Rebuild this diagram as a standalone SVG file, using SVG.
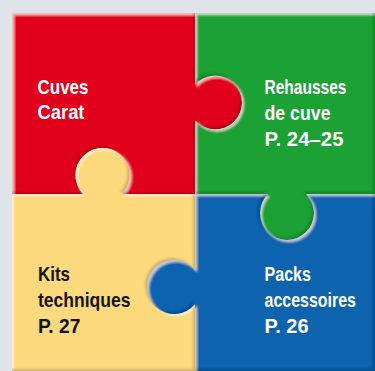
<svg xmlns="http://www.w3.org/2000/svg" width="375" height="371" viewBox="0 0 375 371">
<defs>
<style>
.lbl{font-family:"Liberation Sans Narrow","Liberation Sans",Arial,sans-serif;font-weight:bold;font-size:20.5px}
.w{fill:#ffffff}
.k{fill:#141414}
.piece{filter:url(#bevel)}
</style>
<filter id="bevel" x="-5%" y="-5%" width="110%" height="110%">
<feGaussianBlur in="SourceAlpha" stdDeviation="1.2" result="blur"/>
<feOffset in="blur" dx="2" dy="2" result="o1"/>
<feComposite in="SourceAlpha" in2="o1" operator="out" result="hl"/>
<feFlood flood-color="#ffffff" flood-opacity="0.55"/>
<feComposite in2="hl" operator="in" result="hlc"/>
<feOffset in="blur" dx="-2" dy="-2" result="o2"/>
<feComposite in="SourceAlpha" in2="o2" operator="out" result="sh"/>
<feFlood flood-color="#000000" flood-opacity="0.35"/>
<feComposite in2="sh" operator="in" result="shc"/>
<feMerge><feMergeNode in="SourceGraphic"/><feMergeNode in="hlc"/><feMergeNode in="shc"/></feMerge>
</filter>
</defs>
<rect x="0" y="0" width="375" height="371" fill="#dfe4e8"/>
<g id="connectors"/>
<g id="red">
<path class="piece" fill="#e1001a" d="M12,13 H195 V84.4 A27,27 0 1 1 195,120.6 V194 H121.7 A27,27 0 1 0 83.3,194 H12 Z"/>
<text class="lbl w" x="37.5" y="93.5" textLength="51" lengthAdjust="spacingAndGlyphs">Cuves</text>
<text class="lbl w" x="37.5" y="119" textLength="47" lengthAdjust="spacingAndGlyphs">Carat</text>
</g>
<g id="green">
<path class="piece" fill="#1ea135" d="M195,13 H375 V194 H306.2 A27,27 0 1 1 267.8,194 H195 V120.6 A27,27 0 1 0 195,84.4 Z"/>
<text class="lbl w" x="264.5" y="93.5" textLength="82" lengthAdjust="spacingAndGlyphs">Rehausses</text>
<text class="lbl w" x="264.5" y="120" textLength="66" lengthAdjust="spacingAndGlyphs">de cuve</text>
<text class="lbl w" x="264.5" y="146" textLength="79" lengthAdjust="spacingAndGlyphs">P. 24–25</text>
</g>
<g id="yellow">
<path class="piece" fill="#fcd97b" d="M12,194 H83.3 A27,27 0 1 1 121.7,194 H195 V270 A27,27 0 1 0 195,304 V371 H12 Z"/>
<text class="lbl k" x="38" y="281" textLength="32" lengthAdjust="spacingAndGlyphs">Kits</text>
<text class="lbl k" x="38" y="307" textLength="92.5" lengthAdjust="spacingAndGlyphs">techniques</text>
<text class="lbl k" x="38" y="333" textLength="42.5" lengthAdjust="spacingAndGlyphs">P. 27</text>
</g>
<g id="blue">
<path class="piece" fill="#0a63ae" d="M195,194 H267.8 A27,27 0 1 0 306.2,194 H375 V371 H195 V304 A27,27 0 1 1 195,270 Z"/>
<text class="lbl w" x="264.5" y="281" textLength="46.5" lengthAdjust="spacingAndGlyphs">Packs</text>
<text class="lbl w" x="264.5" y="307" textLength="91.5" lengthAdjust="spacingAndGlyphs">accessoires</text>
<text class="lbl w" x="264.5" y="333" textLength="44" lengthAdjust="spacingAndGlyphs">P. 26</text>
</g>
</svg>
